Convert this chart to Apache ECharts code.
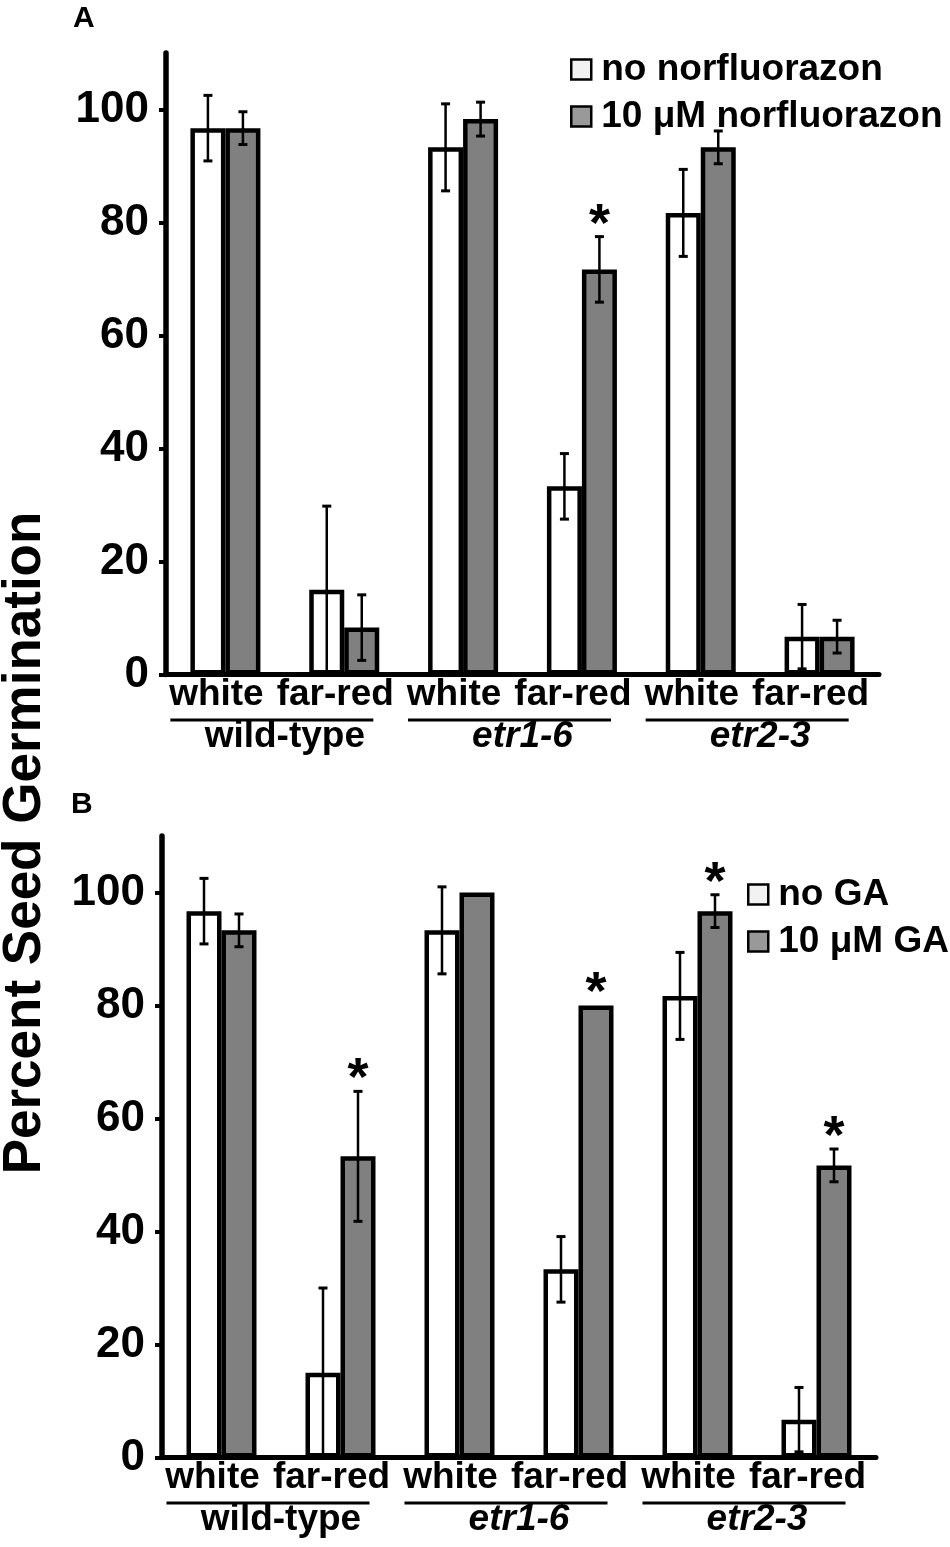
<!DOCTYPE html>
<html><head><meta charset="utf-8">
<script src="https://cdn.jsdelivr.net/npm/echarts@6/dist/echarts.min.js"></script>
<style>html,body{margin:0;padding:0;background:#fff}#c{width:950px;height:1547px}</style>
</head><body><div id="c"></div>
<script>
// ---- data ----
const categories = ['white', 'far-red', 'white', 'far-red', 'white', 'far-red'];
const groups = ['wild-type', 'etr1-6', 'etr2-3'];
const yTicks = [0, 20, 40, 60, 80, 100];
const legendA = ['no norfluorazon', '10 \u03bcM norfluorazon'];
const legendB = ['no GA', '10 \u03bcM GA'];
const noNorf = [96.7, 15.0, 93.3, 33.3, 81.7, 6.7];
const noNorfErr = [5.8, 14.8, 7.7, 5.8, 7.7, 5.7];
const norf = [96.7, 8.3, 98.3, 71.7, 93.3, 6.7];
const norfErr = [2.9, 5.8, 3.0, 5.8, 2.9, 2.9];
const norfSig = [0, 0, 0, 1, 0, 0];
const noGA = [96.7, 15.0, 93.3, 33.3, 81.7, 6.7];
const noGAErr = [5.8, 15.0, 7.7, 5.8, 7.7, 5.7];
const ga = [93.3, 53.3, 100, 80.0, 96.7, 51.7];
const gaErr = [2.9, 11.5, 0, 0, 2.9, 2.9];
const gaSig = [0, 1, 0, 1, 1, 1];
const noSig = [0, 0, 0, 0, 0, 0];

// ---- styles ----
const FONT = 'Liberation Sans, Arial, sans-serif';
const BAR_W = 35;
const GRAY = '#808080';
const STAR_GAP = 11;

function errRender(side) {
  return function (params, api) {
    const idx = api.value(0), v = api.value(1), e = api.value(2), s = api.value(3);
    const c = api.coord([idx, v]);
    const x = c[0] + side * BAR_W / 2;
    const children = [];
    const topY = api.coord([idx, v + e])[1];
    if (e > 0) {
      const botY = api.coord([idx, Math.max(0, v - e)])[1];
      children.push({ type: 'line', shape: { x1: x, y1: topY, x2: x, y2: botY }, style: { stroke: '#000', lineWidth: 2.5 } });
      children.push({ type: 'line', shape: { x1: x - 4.5, y1: topY, x2: x + 4.5, y2: topY }, style: { stroke: '#000', lineWidth: 3 } });
      children.push({ type: 'line', shape: { x1: x - 4.5, y1: botY, x2: x + 4.5, y2: botY }, style: { stroke: '#000', lineWidth: 3 } });
    }
    if (s) {
      children.push({ type: 'text', x: x, y: topY - STAR_GAP, style: { text: '*', font: 'bold 54px ' + FONT, fill: '#000', align: 'center', verticalAlign: 'middle' } });
    }
    return { type: 'group', children: children };
  };
}

function errData(vals, errs, sig) {
  return vals.map((v, i) => [i, v, errs[i], sig[i]]);
}

const grids = [
  { left: 166, top: 53, width: 713, height: 621.5 },
  { left: 162, top: 836, width: 714, height: 621.5 }
];

const xAxes = [], yAxes = [];
grids.forEach((g, gi) => {
  xAxes.push({
    type: 'category', gridIndex: gi, data: categories, position: 'bottom',
    axisLine: { lineStyle: { color: '#000', width: 5 } },
    axisTick: { show: false },
    axisLabel: { interval: 0, fontSize: 37, fontWeight: 'bold', color: '#000', fontFamily: FONT, margin: 2, padding: [0, 18, 0, 0] }
  });
  xAxes.push({
    type: 'category', gridIndex: gi, data: groups, position: 'bottom',
    axisLine: { show: false }, axisTick: { show: false },
    axisLabel: {
      interval: 0, margin: 44, color: '#000', fontFamily: FONT,
      formatter: function (v) { return '{ln|}{sp|}\n' + (v === 'wild-type' ? '{n|' : '{i|') + v + '}'; },
      rich: {
        ln: { width: 203, height: 3, lineHeight: 3, backgroundColor: '#000' },
        sp: { width: 26, height: 3, lineHeight: 3 },
        n: { fontSize: 37, fontWeight: 'bold', lineHeight: 30, fontFamily: FONT, color: '#000' },
        i: { fontSize: 37, fontWeight: 'bold', fontStyle: 'italic', lineHeight: 30, fontFamily: FONT, color: '#000' }
      }
    }
  });
  yAxes.push({
    type: 'value', gridIndex: gi, min: 0, max: 110, interval: 20,
    splitLine: { show: false },
    axisLine: { show: true, lineStyle: { color: '#000', width: 5.5 } },
    axisTick: { show: true, length: 7, lineStyle: { color: '#000', width: 4 }, customValues: yTicks },
    axisLabel: { customValues: yTicks, fontSize: 44, fontWeight: 'bold', color: '#000', fontFamily: FONT, margin: 17 }
  });
});

function barSeries(name, gi, data, color) {
  return {
    name: name, type: 'bar', xAxisIndex: gi * 2, yAxisIndex: gi, data: data,
    barWidth: BAR_W, barGap: '0%',
    itemStyle: { color: color, borderColor: '#000', borderWidth: 4.5 },
    z: 2
  };
}
function errSeries(gi, vals, errs, sig, side) {
  return {
    type: 'custom', xAxisIndex: gi * 2, yAxisIndex: gi,
    renderItem: errRender(side), data: errData(vals, errs, sig),
    encode: { x: 0, y: 1 }, z: 5, silent: true
  };
}

const legendItem = (name, fill) => ({ name: name, itemStyle: { color: fill, borderColor: '#000', borderWidth: 2.5 } });
const legendCommon = {
  orient: 'vertical', icon: 'rect', itemWidth: 20, itemHeight: 20, itemGap: 10, padding: 0, selectedMode: false,
  textStyle: { fontSize: 37, fontWeight: 'bold', color: '#000', fontFamily: FONT, lineHeight: 32, padding: [0, 0, 0, 5] }
};

const option = {
  backgroundColor: '#fff',
  animation: false,
  title: [
    { text: 'A', left: 73, top: 4, padding: 0, textStyle: { fontSize: 30, fontWeight: 'bold', color: '#000', fontFamily: FONT } },
    { text: 'B', left: 71, top: 790, padding: 0, textStyle: { fontSize: 30, fontWeight: 'bold', color: '#000', fontFamily: FONT } }
  ],
  legend: [
    Object.assign({}, legendCommon, { left: 570, top: 51, data: [legendItem(legendA[0], '#f2f2f2'), legendItem(legendA[1], '#999999')] }),
    Object.assign({}, legendCommon, { left: 747, top: 876, data: [legendItem(legendB[0], '#f2f2f2'), legendItem(legendB[1], '#999999')] })
  ],
  grid: grids,
  xAxis: xAxes,
  yAxis: yAxes,
  graphic: [
    { type: 'text', x: 25, y: 843, rotation: Math.PI / 2,
      style: { text: 'Percent Seed Germination', font: 'bold 53px ' + FONT, fill: '#000', align: 'center', verticalAlign: 'middle' } }
  ],
  series: [
    barSeries(legendA[0], 0, noNorf, '#fff'),
    barSeries(legendA[1], 0, norf, GRAY),
    errSeries(0, noNorf, noNorfErr, noSig, -1),
    errSeries(0, norf, norfErr, norfSig, 1),
    barSeries(legendB[0], 1, noGA, '#fff'),
    barSeries(legendB[1], 1, ga, GRAY),
    errSeries(1, noGA, noGAErr, noSig, -1),
    errSeries(1, ga, gaErr, gaSig, 1)
  ]
};

const chart = echarts.init(document.getElementById('c'), null, { renderer: 'canvas' });
chart.setOption(option);
</script>
</body></html>
